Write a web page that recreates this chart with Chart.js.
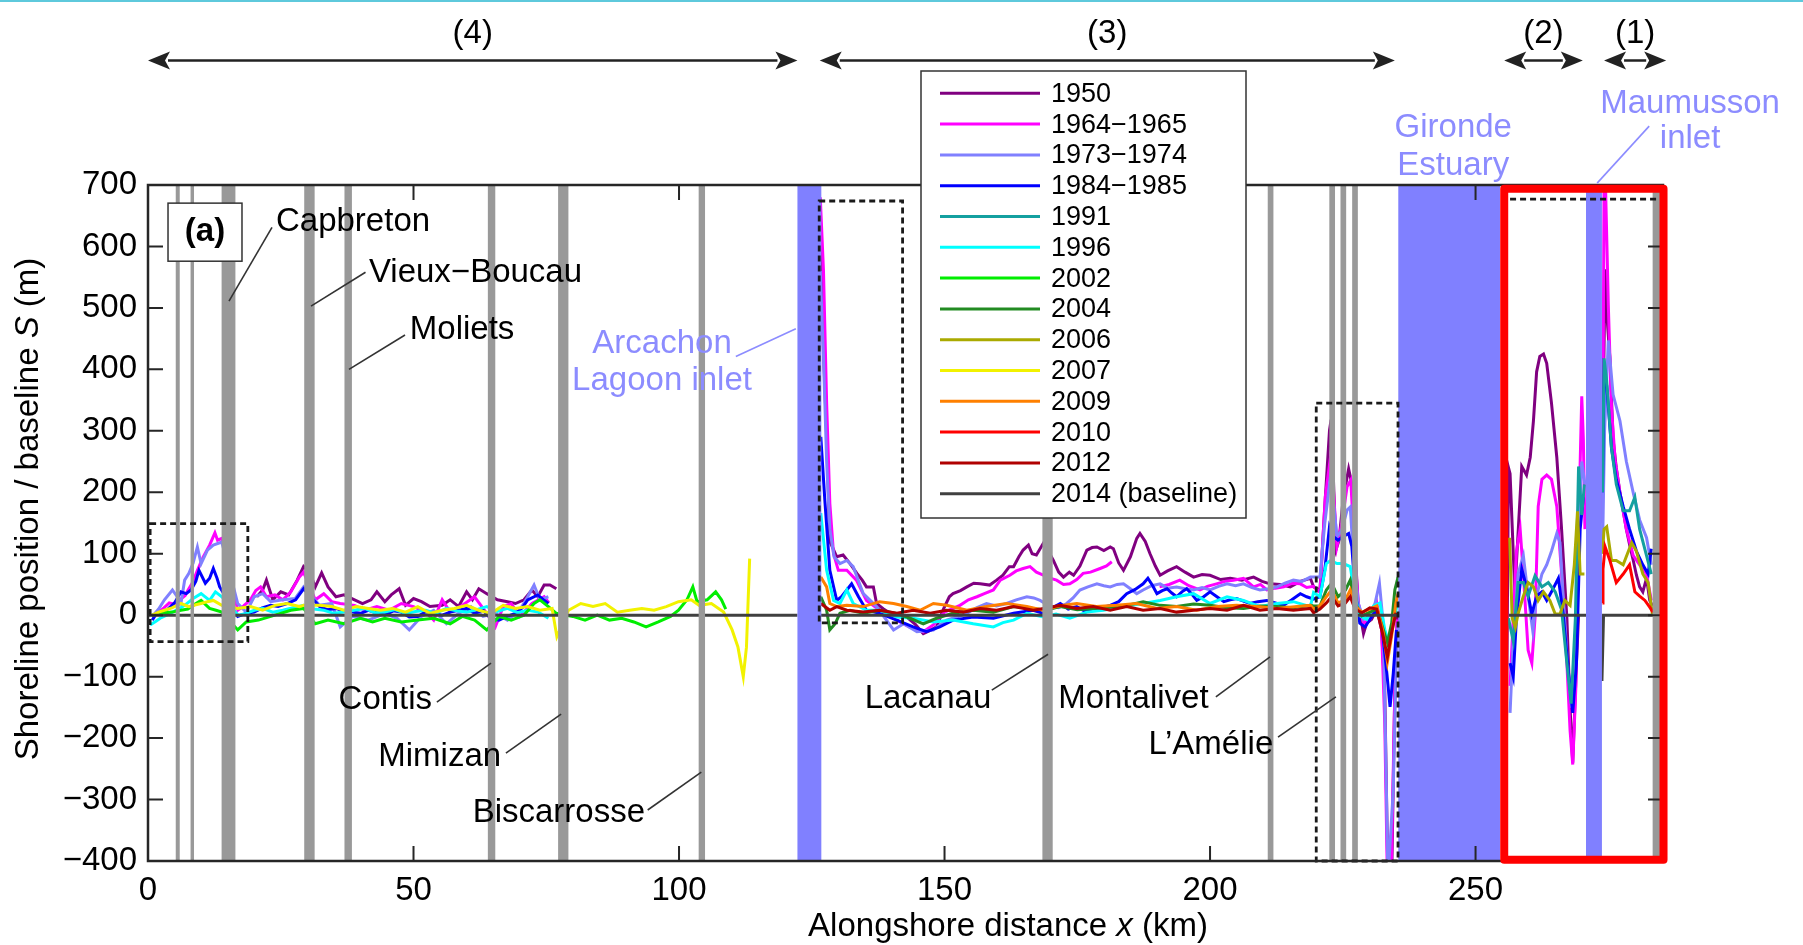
<!DOCTYPE html>
<html><head><meta charset="utf-8">
<script src="https://cdn.jsdelivr.net/npm/chart.js@4"></script>
<style>html,body{margin:0;padding:0;background:#fff}canvas{display:block}</style>
</head><body>
<canvas id="c" width="1803" height="945"></canvas>
<script>
// ---------- DATA (alongshore km, shoreline position m) ----------
const LABELS = ['1950','1964−1965','1973−1974','1984−1985','1991','1996','2002','2004','2006','2007','2009','2010','2012','2014 (baseline)'];
const X_TICKS = [0,50,100,150,200,250];
const Y_TICKS = [-400,-300,-200,-100,0,100,200,300,400,500,600,700];

const S1950 = [[20.5,30],[21.6,41],[22.3,57],[23.5,25],[25.0,38],[26.5,33],[28.1,57],[29.3,79],[30.4,70],[31.5,46],[32.7,69],[33.9,46],[35.4,30],[36.9,33],[38.9,25],[40.4,19],[42.0,25],[43.1,38],[44.6,22],[45.8,33],[47.3,43],[48.5,16],[50.0,27],[51.5,22],[53.1,14],[55.4,16],[56.9,25],[58.5,14],[60.0,38],[61.1,25],[62.3,43],[63.8,35],[65.8,25],[67.7,22],[69.2,19],[70.8,25],[72.3,41],[73.4,30],[74.6,49],[75.7,49],[76.9,43],
[100,null],
[126.6,620],[127.0,480],[127.8,291],[128.4,120],[129.7,95],[130.9,98],[132.2,84],[133.5,68],[134.5,57],[135.3,46],[136.6,46],[137.2,19],[138.5,10],[139.8,3],[141.5,0],[142.9,-3],[144.5,-15],[146.0,-30],[147.2,-25],[148.5,-19],[149.8,10],[150.9,30],[151.6,35],[153.0,40],[154.2,46],[155.5,52],[156.7,51],[158.5,49],[159.8,57],[161.0,65],[162.2,79],[163.0,79],[164.0,95],[164.8,106],[165.8,114],[166.5,100],[167.3,98],[168.6,117],[169.5,105],[170.5,89],[171.5,70],[172.4,62],[173.5,70],[174.3,65],[175.5,80],[176.8,106],[177.8,110],[178.7,111],[180.0,105],[181.2,111],[181.8,108],[182.8,85],[183.7,73],[185.0,95],[186.2,125],[186.8,133],[187.8,120],[188.7,100],[189.7,80],[190.6,65],[192.0,72],[193.7,79],[195.3,70],[196.9,62],[198.5,66],[200.0,65],[202.0,58],[203.8,60],[206.0,57],[208.2,62],[209.8,55],[211.3,51],[213.2,50],[215.1,46],[217.0,55],[218.9,60],[219.5,46],[220.7,41],[221.6,176],[222.5,301],[222.8,318],[223.2,230],[223.7,106],[224.3,122],[225.1,192],[226.1,238],[226.7,214],[227.3,106],[227.9,20],[228.9,-30],[229.5,-13],[230.4,-7],[231.4,10],[232.3,-23],[232.9,-122],[233.5,-430],[234.2,-430],[234.8,-120],[235.3,0],
[245,null],
[255.6,-430],[256.2,240],[256.5,230],[257.4,38],[258.7,242],[259.6,228],[260.3,257],[260.9,316],[261.5,396],[262.1,421],[262.8,425],[263.4,410],[264.3,345],[265.3,257],[266.2,140],[267.2,-5],[267.8,-151],[268.3,-240],[269.0,-78],[269.4,0],
[272,null],
[273.9,250],[274.4,563],[274.8,480],[275.3,418],[275.9,286],[276.5,240],[277.2,199],[277.8,170],[278.4,140],[279.0,115],[279.7,89],[280.3,65],[280.9,46],[281.5,38],[282.2,60],[282.8,24],[283.3,15]];

const S1964 = [[2.0,5],[3.0,12],[4.0,20],[5.0,18],[6.0,25],[7.0,32],[7.5,40],[8.5,55],[9.3,73],[10.4,95],[11.6,114],[12.6,134],[13.1,122],[13.9,125],[16.9,8],[18.0,15],[19.3,25],[20.3,40],[21.2,46],[22.3,30],[23.9,33],[25.4,25],[26.9,38],[28.5,62],[29.3,70],[31.5,25],[33.1,35],[34.6,22],[36.2,19],[38.9,16],[40.8,8],[43.1,14],[45.4,8],[47.7,19],[50.0,14],[52.3,5],[53.8,-8],[55.4,25],[56.9,5],[59.2,16],[61.5,30],[63.8,3],[65.4,-19],[66.9,14],[68.4,19],[70.0,-2],[72.3,19],[74.6,30],[75.5,20],
[100,null],
[126.6,680],[127.2,562],[127.8,345],[128.4,182],[129.1,100],[130.0,73],[131.6,73],[133.4,57],[135.3,24],[137.8,8],[139.5,0],[141.0,-8],[143.5,-20],[146.0,-27],[148.0,-15],[150.0,5],[152.9,16],[154.5,25],[156.1,30],[157.5,35],[159.2,41],[160.5,57],[162.3,65],[163.5,72],[164.8,76],[166.1,79],[167.3,70],[168.6,65],[170.0,60],[171.1,57],[172.4,50],[173.6,51],[174.9,58],[176.1,68],[177.5,70],[179.3,76],[180.5,80],[181.5,87],
[186,null],
[190.5,46],[192.3,50],[194.3,57],[196.0,48],[198.1,41],[199.5,47],[201.2,51],[202.8,55],[204.4,57],[206.3,60],[208.2,46],[209.5,50],[210.7,41],[212.3,44],[213.9,46],[215.5,52],[217.0,51],[218.2,45],[219.5,47],[220.7,37],[221.7,192],[222.7,258],[223.2,209],[223.9,112],[224.8,149],[225.8,209],[226.5,220],[227.1,122],[227.9,20],[228.9,-13],[230.1,-7],[231.4,20],[232.3,-23],[232.9,-176],[233.4,-430],[234.1,-430],[234.8,-122],[235.2,-7],
[245,null],
[256.5,-115],[257.1,-5],[257.7,104],[258.4,140],[259.0,67],[259.9,-57],[260.6,-78],[261.2,-5],[261.8,177],[262.5,221],[263.4,228],[264.3,221],[265.3,177],[266.2,67],[267.2,-78],[267.8,-188],[268.3,-243],[268.9,-115],[269.4,140],[270.0,356],[270.3,286],[270.6,140],
[272,null],
[273.9,150],[274.2,710],[274.5,690],[275.0,505],[275.6,337],[276.3,250],[277.2,199],[278.4,140],[279.7,97],[280.9,82],[282.2,67],[283.1,24]];

const S1973 = [[0.8,-2],[2.0,10],[3.1,25],[4.6,41],[5.5,30],[6.2,19],[6.9,57],[7.7,68],[8.5,85],[9.3,111],[10.0,84],[11.2,106],[12.3,114],[13.9,119],[16.9,19],[18.5,5],[20.0,30],[21.6,35],[23.1,22],[25.4,25],[27.7,27],[29.3,46],[32.3,16],[34.6,19],[36.2,-19],[38.5,-2],[41.5,-8],[44.6,3],[46.9,-5],[49.2,-24],[51.5,-2],[53.8,8],[56.2,-14],[58.5,3],[60.8,14],[63.1,-2],[65.4,3],[67.7,-8],[70.0,8],[71.5,30],[72.7,49],[73.8,25],[75.4,30],
[100,null],
[126.6,560],[127.2,420],[127.8,250],[128.4,140],[129.2,95],[130.3,84],[131.6,89],[132.8,79],[134.7,35],[137.2,14],[140.4,-24],[142.3,-14],[144.8,-27],[147.9,-24],[150.4,-8],[152.3,-3],[154.2,3],[156.0,12],[157.9,19],[159.8,15],[161.7,19],[163.5,25],[165.5,30],[166.8,28],[168.0,24],[169.9,14],[171.5,12],[173.0,19],[174.2,28],[175.5,41],[177.0,46],[178.7,51],[180.0,48],[181.2,46],[182.5,50],[183.7,51],[185.0,43],[186.2,35],[187.4,41],[189.0,48],[190.6,51],[192.0,44],[193.7,46],[195.3,43],[196.9,41],[198.5,45],[200.0,41],[201.6,47],[203.2,51],[204.8,48],[206.3,51],[207.9,45],[209.4,41],[211.0,43],[212.6,46],[214.1,52],[215.7,57],[217.3,55],[218.9,62],[219.5,62],[220.7,62],[221.6,149],[222.6,220],[223.2,187],[223.9,128],[224.8,138],[225.8,171],[226.4,176],[227.0,95],[227.9,20],[228.9,-7],[230.1,-1],[231.1,20],[231.9,52],[232.6,-13],[233.1,-230],[233.5,-430],[234.5,-285],[235.1,-56],[235.4,-13],
[245,null],
[256.5,-159],[257.1,-42],[258.0,67],[259.0,97],[259.9,31],[260.8,-27],[261.5,31],[262.5,67],[263.4,82],[264.3,104],[265.3,133],[265.9,118],[266.5,31],[267.3,-78],[268.1,-151],[268.8,-78],[269.4,140],[270.0,250],[270.6,213],
[272,null],
[273.9,100],[274.3,300],[275.0,447],[275.9,359],[277.2,316],[278.4,250],[279.7,199],[280.9,155],[282.2,126],[283.1,82]];

const S1984 = [[0.8,-8],[1.6,3],[2.8,5],[3.9,11],[5.0,20],[6.2,38],[7.2,35],[8.1,41],[9.0,55],[9.6,73],[10.8,52],[11.6,60],[12.3,76],[13.0,60],[13.5,46],[16.9,-2],[18.5,3],[20.0,5],[21.5,12],[23.1,16],[24.5,14],[26.2,19],[27.8,25],[29.3,43],[32.3,14],[33.8,9],[35.4,11],[37.0,6],[38.5,5],[40.0,3],[41.5,8],[43.0,4],[44.6,0],[46.2,7],[47.7,5],[49.2,-3],[50.8,-2],[52.3,6],[53.8,3],[55.4,0],[56.9,5],[58.5,8],[60.0,11],[61.5,3],[63.1,8],[64.5,-5],[66.1,-8],[67.6,-2],[69.2,3],[70.5,12],[71.5,25],[73.4,33],[74.5,25],[75.4,19],
[100,null],
[126.7,290],[127.5,182],[128.4,73],[129.7,24],[130.6,30],[131.6,41],[132.5,51],[133.8,30],[135.3,8],[137.8,3],[141.0,-8],[144.1,-19],[146.6,-27],[149.1,-19],[151.6,-8],[155.4,-3],[159.2,-5],[163.0,3],[166.7,8],[168.6,3],[170.3,12],[171.8,19],[173.3,10],[174.9,14],[176.5,6],[178.0,8],[179.6,12],[181.2,16],[182.8,22],[184.3,35],[185.9,42],[187.4,51],[188.3,60],[189.2,48],[190.0,35],[191.0,40],[191.9,43],[192.8,36],[193.7,30],[194.7,38],[195.6,43],[196.6,34],[197.5,24],[198.8,30],[200.0,38],[201.3,30],[202.6,22],[203.8,25],[205.0,27],[206.3,23],[207.5,19],[209.0,22],[210.7,24],[212.3,20],[213.8,16],[215.4,25],[217.0,35],[218.2,30],[219.5,26],[220.7,30],[221.6,73],[222.5,144],[223.2,128],[224.1,122],[225.1,128],[226.1,133],[226.7,112],[227.3,41],[228.2,-13],[229.2,-19],[230.1,-7],[231.4,10],[232.3,-13],[233.3,-95],[233.9,-149],[234.5,-95],[235.1,-24],
[245,null],
[256.5,-78],[257.1,-100],[257.7,-5],[258.7,75],[259.6,46],[260.6,2],[261.5,31],[262.5,38],[263.4,24],[264.3,38],[265.6,60],[266.5,2],[267.5,-93],[268.3,-159],[269.0,-78],[269.7,140],[270.3,192],
[272,null],
[273.9,200],[274.2,396],[274.7,374],[275.6,272],[276.5,221],[277.8,177],[279.0,140],[280.3,104],[281.5,82],[282.5,67],[283.1,108]];

const S1991 = [[256.2,-5],[257.1,-42],[258.0,53],[259.0,53],[259.9,31],[261.2,64],[262.5,46],[263.7,53],[265.0,38],[266.2,9],[267.2,-78],[268.0,-144],[268.8,-5],[269.4,242],[270.0,163],[270.5,213],
[272,null],
[273.9,200],[274.2,418],[274.7,381],[275.6,272],[276.5,213],[277.8,170],[279.0,170],[280.0,192],[280.9,140],[282.2,97],[283.1,67]];

const S1996 = [[0.4,-16],[1.5,-10],[2.3,-5],[3.5,0],[4.6,5],[5.8,10],[6.9,16],[8.5,27],[10.0,35],[11.6,24],[12.7,38],[13.9,30],[17.0,0],[18.5,3],[20.0,8],[21.6,11],[23.5,5],[25.4,8],[27.3,12],[29.3,16],[31.3,10],[33.1,8],[35.0,3],[36.9,5],[38.8,8],[40.8,11],[42.7,4],[44.6,5],[46.5,9],[48.5,3],[50.4,6],[52.3,8],[54.2,3],[56.2,11],[58.1,7],[60.0,5],[61.9,9],[63.8,14],[65.8,6],[67.7,11],[69.6,4],[71.5,8],[73.5,5],[75.4,-5],
[100,null],
[126.7,166],[127.8,73],[129.1,24],[130.3,19],[131.6,41],[132.8,19],[135.3,8],[137.8,8],[141.0,-3],[144.1,-5],[147.9,-11],[151.6,-8],[155.4,-14],[159.2,-19],[161.0,-12],[163.0,-8],[165.5,3],[168.6,-3],[171.0,2],[173.6,-5],[176.8,5],[179.9,8],[183.7,14],[187.4,19],[190.6,24],[193.7,30],[196.9,35],[200.0,19],[203.2,30],[206.3,24],[209.4,14],[212.6,19],[215.7,22],[218.9,14],[219.5,37],[220.7,30],[221.9,84],[222.7,89],[223.9,84],[225.1,84],[226.4,79],[227.3,30],[228.2,-1],[229.5,-7],[230.8,15],[232.0,20],[232.9,-23],[233.6,-45],[234.5,-13],[235.2,15]];

const S2002 = [[0.8,0],[2.5,3],[4.5,5],[6.2,8],[7.5,10],[8.5,16],[10.0,24],[11.6,11],[12.8,8],[13.9,5],[16.9,-24],[18.5,-11],[20.8,-8],[23.9,0],[26.9,8],[29.3,11],[31.5,-14],[33.9,-8],[36.9,-14],[40.0,-5],[42.3,-11],[44.6,-5],[47.7,-11],[50.8,-8],[53.8,-5],[56.9,-14],[59.2,-2],[61.5,-8],[63.8,-24],[66.1,-2],[68.4,-8],[70.8,0],[72.7,19],[73.8,25],[75.4,14],[76.9,3],[80.0,-2],[82.3,-8],[84.6,0],[86.9,-8],[89.2,-5],[91.5,-11],[93.8,-19],[96.1,-11],[98.4,-2],[99.9,8],[101.5,25],[102.6,46],[103.4,22],[105.3,25],[106.9,38],[108.0,25],[108.8,10]];

const S2004 = [[126.7,30],[127.8,8],[128.4,-24],[129.4,-14],[130.3,3],[132.2,8],[134.7,3],[137.8,8],[141.0,3],[143.5,-5],[146.0,-14],[148.5,-5],[151.6,3],[155.4,8],[159.2,5],[163.0,14],[166.7,11],[169.0,8],[171.8,14],[175.0,9],[178.0,11],[181.0,13],[184.3,16],[187.4,22],[190.6,16],[193.7,14],[196.9,18],[200.0,16],[203.2,12],[206.3,11],[209.4,15],[212.6,14],[215.7,12],[218.9,16],[219.5,15],[220.7,15],[221.9,41],[222.9,52],[224.1,30],[225.5,41],[226.4,57],[227.3,20],[228.6,-1],[230.1,5],[231.4,10],[232.6,-23],[233.4,-45],[234.2,-13],[234.8,41],[235.4,62]];

const S2006 = [[256.4,126],[256.9,-5],[257.5,-20],[258.0,2],[259.0,31],[259.9,53],[260.9,46],[261.8,24],[262.8,38],[264.0,24],[265.0,2],[265.9,2],[266.8,24],[267.8,16],[268.6,82],[269.2,169],[269.7,67],[270.5,67],
[272,null],
[273.9,100],[274.2,140],[274.7,144],[275.6,89],[276.5,89],[277.8,82],[279.4,118],[280.3,104],[281.5,67],[282.5,53],[283.3,2]];

const S2007 = [[0.8,0],[2.0,5],[3.1,8],[4.5,12],[6.2,19],[7.7,14],[9.0,17],[10.0,19],[11.2,22],[12.3,24],[13.9,16],[16.9,11],[19.3,14],[21.6,8],[23.9,16],[26.2,19],[28.5,14],[29.3,16],[32.3,16],[34.6,14],[36.9,8],[39.2,14],[41.5,11],[43.8,8],[46.1,11],[48.5,5],[50.8,14],[53.1,3],[55.4,8],[57.7,11],[60.0,16],[62.3,8],[64.6,3],[66.9,16],[69.2,11],[71.5,14],[73.8,8],[76.1,11],[77.0,-35],[79.2,8],[81.5,19],[83.8,14],[86.1,19],[88.4,5],[90.7,8],[93.0,11],[95.3,8],[97.6,14],[99.9,22],[102.3,25],[103.8,16],[106.1,19],[108.4,5],[110.0,-24],[111.1,-52],[112.1,-100],[112.7,-52],[113.3,92]];

const S2009 = [[126.7,62],[127.8,46],[128.4,19],[129.7,14],[131.6,16],[134.7,14],[137.8,22],[140.4,19],[142.9,14],[145.4,8],[147.9,19],[150.4,16],[154.2,8],[157.9,14],[161.7,19],[165.5,14],[168.6,8],[171.5,15],[174.9,19],[178.6,14],[182.4,16],[186.2,19],[190.0,11],[193.7,14],[197.5,8],[201.3,14],[205.0,16],[208.8,14],[212.6,11],[216.4,14],[218.9,16],[219.5,10],[220.7,15],[221.9,30],[222.9,41],[224.1,20],[225.5,25],[226.4,41],[227.3,15],[228.6,5],[230.1,10],[231.4,15],[232.6,-28],[233.4,-76],[234.2,-34],[235.0,20],[235.4,35]];

const S2010 = [[273.9,20],[274.0,75],[274.4,111],[275.3,89],[276.5,53],[277.8,67],[279.0,82],[280.0,38],[280.9,31],[281.9,24],[282.8,13],[283.4,5]];

const S2012 = [[126.7,19],[128.4,8],[129.7,14],[131.6,8],[134.7,5],[137.8,8],[141.0,3],[144.1,8],[147.3,3],[150.4,8],[153.5,5],[156.7,11],[159.8,8],[163.0,14],[166.7,8],[169.5,12],[171.8,16],[174.9,11],[178.0,14],[181.2,8],[184.3,14],[187.4,8],[190.6,11],[193.7,5],[196.9,8],[200.0,11],[203.2,8],[206.3,16],[209.4,8],[212.6,11],[215.7,8],[218.9,11],[219.5,4],[220.7,10],[221.9,20],[222.9,30],[224.1,15],[225.5,20],[226.4,30],[227.3,10],[228.6,4],[230.1,12],[231.4,10],[232.6,-34],[233.4,-68],[234.2,-28],[235.0,4]];

const S2014 = [[0,0],[122.3,0],[124,null],[126.7,0],[235.4,0],[245,null],[256.3,0],[270.8,0],[272,null],[273.8,-107],[274.1,0],[283.4,0]];

const SERIES = [S1950,S1964,S1973,S1984,S1991,S1996,S2002,S2004,S2006,S2007,S2009,S2010,S2012,S2014];

// ---------- STYLES / ANNOTATIONS ----------
const COLORS = ['#800080','#ff00ff','#8080ff','#0000ff','#14a0a0','#00ffff','#00ee00','#228b22','#aaaa00','#f2f200','#ff8000','#ff0000','#b00000','#404040'];
const FONT = '"Liberation Sans", Arial, Helvetica, sans-serif';
const INLET_COLOR = '#8c8cff';
const GREY_LINES = [[5.6,0.75],[8.34,0.65],[15.16,2.6],[30.4,1.96],[37.7,1.4],[64.7,1.4],[78.2,1.94],[104.3,1.2],[169.4,1.94],[211.4,1.07],[223.0,1.07],[225.1,1.07],[227.3,1.07],[284.05,1.4]];
const BLUE_BANDS = [[122.3,126.8],[235.45,254.6],[270.8,273.8]];
const DASHED_BOXES = [[0.4,18.8,-43,149],[126.4,142.1,-12.5,674],[220,235.4,-400,345]];
const DASHED_TOP = [256.5,284.8,677];
const RED_BOX = [255.4,285.4,-398,694];
const SECTIONS = [['(4)',0,122.3],['(3)',126.5,234.8],['(2)',255.4,270.2],['(1)',274.2,285.9]];
const PLACES = [
 ['Capbreton',24.1,639.5,'left',[23.35,631,15.25,511]],
 ['Vieux−Boucau',41.6,556.5,'left',[40.96,558,30.7,503]],
 ['Moliets',49.3,464,'left',[48.4,456,37.85,400]],
 ['Contis',53.5,-138,'right',[54.4,-141.6,64.6,-78]],
 ['Mimizan',66.5,-231,'right',[67.4,-224.6,77.8,-161]],
 ['Biscarrosse',93.6,-322,'right',[94.1,-317,104.2,-255.5]],
 ['Lacanau',158.8,-137,'right',[158.9,-122,169.5,-63.5]],
 ['Montalivet',171.4,-137,'left',[201.1,-133,211.3,-68]],
 ['L’Amélie',211.9,-211.5,'right',[212.8,-198.5,223.7,-133]]
];
const INLETS = [
 [['Arcachon','Lagoon inlet'],96.8,[441,382],[110.7,421,122.0,466]],
 [['Gironde','Estuary'],245.8,[792.5,730.7],null],
 [['Maumusson','inlet'],290.4,[831.6,774.6],[282.7,795.8,272.9,703]]
];

Chart.defaults.font.family = FONT;

const deco = {
  id: 'deco',
  beforeDraw(chart) {
    const c = chart.ctx;
    c.save();
    c.fillStyle = '#fff'; c.fillRect(0, 0, chart.width, chart.height);
    c.fillStyle = '#5ec9dc'; c.fillRect(0, 0, chart.width, 2);
    c.restore();
  },
  afterDatasetsDraw(chart) {
    const c = chart.ctx, xs = chart.scales.x, ys = chart.scales.y, a = chart.chartArea;
    const X = v => xs.getPixelForValue(v), Y = v => ys.getPixelForValue(v);
    c.save();
    // landmark grey lines
    c.fillStyle = '#999999';
    GREY_LINES.forEach(([m, w]) => c.fillRect(X(m - w / 2), a.top, X(m + w / 2) - X(m - w / 2), a.bottom - a.top));
    // inlet bands
    c.fillStyle = '#8080ff';
    BLUE_BANDS.forEach(([l, r]) => c.fillRect(X(l), a.top, X(r) - X(l), a.bottom - a.top));
    // dashed boxes
    c.strokeStyle = '#1a1a1a'; c.lineWidth = 2.8; c.setLineDash([6, 4]);
    DASHED_BOXES.forEach(([l, r, b, t]) => c.strokeRect(X(l), Y(t), X(r) - X(l), Y(b) - Y(t)));
    c.beginPath(); c.moveTo(X(DASHED_TOP[0]), Y(DASHED_TOP[2])); c.lineTo(X(DASHED_TOP[1]), Y(DASHED_TOP[2])); c.stroke();
    c.setLineDash([]);
    // axes box and inward ticks
    c.strokeStyle = '#262626'; c.lineWidth = 2.5;
    c.strokeRect(a.left, a.top, a.right - a.left, a.bottom - a.top);
    c.lineWidth = 2;
    c.beginPath();
    X_TICKS.forEach(v => { const p = X(v); c.moveTo(p, a.bottom); c.lineTo(p, a.bottom - 15); c.moveTo(p, a.top); c.lineTo(p, a.top + 15); });
    Y_TICKS.forEach(v => { const p = Y(v); c.moveTo(a.left, p); c.lineTo(a.left + 15, p); c.moveTo(a.right, p); c.lineTo(a.right - 15, p); });
    c.stroke();
    // red highlight box
    c.strokeStyle = '#ff0000'; c.lineWidth = 8; c.lineJoin = 'round';
    c.strokeRect(X(RED_BOX[0]), Y(RED_BOX[3]), X(RED_BOX[1]) - X(RED_BOX[0]), Y(RED_BOX[2]) - Y(RED_BOX[3]));
    c.lineJoin = 'miter';
    // (a) panel label
    c.fillStyle = '#fff'; c.strokeStyle = '#333'; c.lineWidth = 1.5;
    c.fillRect(X(3.77), Y(670.5), X(17.7) - X(3.77), Y(576) - Y(670.5));
    c.strokeRect(X(3.77), Y(670.5), X(17.7) - X(3.77), Y(576) - Y(670.5));
    c.fillStyle = '#000'; c.font = 'bold 33px ' + FONT; c.textAlign = 'center'; c.textBaseline = 'middle';
    c.fillText('(a)', X(10.73), Y(623));
    // place labels
    c.font = '33px ' + FONT;
    PLACES.forEach(([t, x, y, al, ln]) => {
      c.fillStyle = '#000'; c.textAlign = al; c.fillText(t, X(x), Y(y));
      c.strokeStyle = '#333'; c.lineWidth = 1.6;
      c.beginPath(); c.moveTo(X(ln[0]), Y(ln[1])); c.lineTo(X(ln[2]), Y(ln[3])); c.stroke();
    });
    INLETS.forEach(([lines, x, ysv, ln]) => {
      c.fillStyle = INLET_COLOR; c.textAlign = 'center';
      lines.forEach((t, i) => c.fillText(t, X(x), Y(ysv[i])));
      if (ln) { c.strokeStyle = INLET_COLOR; c.lineWidth = 1.6; c.beginPath(); c.moveTo(X(ln[0]), Y(ln[1])); c.lineTo(X(ln[2]), Y(ln[3])); c.stroke(); }
    });
    // section arrows
    const ay = 60.5, hl = 22, hw = 9;
    c.strokeStyle = '#222'; c.fillStyle = '#222'; c.lineWidth = 2.5;
    SECTIONS.forEach(([t, l, r]) => {
      const x1 = X(l), x2 = X(r);
      c.beginPath(); c.moveTo(x1 + hl - 2, ay); c.lineTo(x2 - hl + 2, ay); c.stroke();
      c.beginPath(); c.moveTo(x1, ay); c.lineTo(x1 + hl, ay - hw); c.lineTo(x1 + hl - 5, ay); c.lineTo(x1 + hl, ay + hw); c.closePath(); c.fill();
      c.beginPath(); c.moveTo(x2, ay); c.lineTo(x2 - hl, ay - hw); c.lineTo(x2 - hl + 5, ay); c.lineTo(x2 - hl, ay + hw); c.closePath(); c.fill();
      c.fillStyle = '#000'; c.textAlign = 'center'; c.textBaseline = 'middle'; c.font = '33px ' + FONT;
      c.fillText(t, (x1 + x2) / 2, 34);
      c.fillStyle = '#222';
    });
    // axis titles with italic symbols
    const drawParts = (parts, cx, cy) => {
      let w = 0;
      parts.forEach(([t, it]) => { c.font = (it ? 'italic ' : '') + '33px ' + FONT; w += c.measureText(t).width; });
      let x = cx - w / 2;
      c.textAlign = 'left'; c.textBaseline = 'middle'; c.fillStyle = '#000';
      parts.forEach(([t, it]) => { c.font = (it ? 'italic ' : '') + '33px ' + FONT; c.fillText(t, x, cy); x += c.measureText(t).width; });
    };
    drawParts([['Alongshore distance ', false], ['x', true], [' (km)', false]], 1008, 927);
    c.save(); c.translate(29, 509); c.rotate(-Math.PI / 2);
    drawParts([['Shoreline position / baseline ', false], ['S', true], [' (m)', false]], 0, 0);
    c.restore();
    // legend
    const lx = 921, ly = 71, lw = 325, lh = 447;
    c.fillStyle = '#fff'; c.fillRect(lx, ly, lw, lh);
    c.strokeStyle = '#333'; c.lineWidth = 1.5; c.strokeRect(lx, ly, lw, lh);
    c.font = '27px ' + FONT; c.textAlign = 'left'; c.textBaseline = 'middle';
    chart.data.datasets.forEach((ds, i) => {
      const y = 93.3 + i * 30.8;
      c.strokeStyle = ds.borderColor; c.lineWidth = 3;
      c.beginPath(); c.moveTo(940, y); c.lineTo(1040, y); c.stroke();
      c.fillStyle = '#000'; c.fillText(ds.label, 1051, y + 1);
    });
    c.restore();
  }
};

new Chart(document.getElementById('c'), {
  type: 'line',
  data: {
    datasets: SERIES.map((s, i) => ({
      label: LABELS[i],
      data: s.map(([x, y]) => ({ x, y })),
      borderColor: COLORS[i],
      backgroundColor: COLORS[i],
      borderWidth: 3,
      pointRadius: 0,
      tension: 0,
      spanGaps: false,
      order: SERIES.length - i
    }))
  },
  options: {
    responsive: false, animation: false, devicePixelRatio: 1,
    layout: { padding: { left: 0, right: 140, top: 185, bottom: 0 } },
    plugins: { legend: { display: false }, tooltip: { enabled: false } },
    scales: {
      x: {
        type: 'linear', min: 0, max: 285.3,
        grid: { display: false, drawTicks: false }, border: { display: false },
        afterBuildTicks: s => { s.ticks = X_TICKS.map(v => ({ value: v })); },
        ticks: { font: { size: 33 }, color: '#000', padding: 10, maxRotation: 0, autoSkip: false },
        afterFit: s => { s.height = 84; }
      },
      y: {
        type: 'linear', min: -400, max: 700,
        grid: { display: false, drawTicks: false }, border: { display: false },
        afterBuildTicks: s => { s.ticks = Y_TICKS.map(v => ({ value: v })); },
        ticks: { font: { size: 33 }, color: '#000', padding: 11, autoSkip: false,
                 callback: v => (v < 0 ? '\u2212' + Math.abs(v) : String(v)) },
        afterFit: s => { s.width = 148; }
      }
    }
  },
  plugins: [deco]
});
</script>
</body></html>
